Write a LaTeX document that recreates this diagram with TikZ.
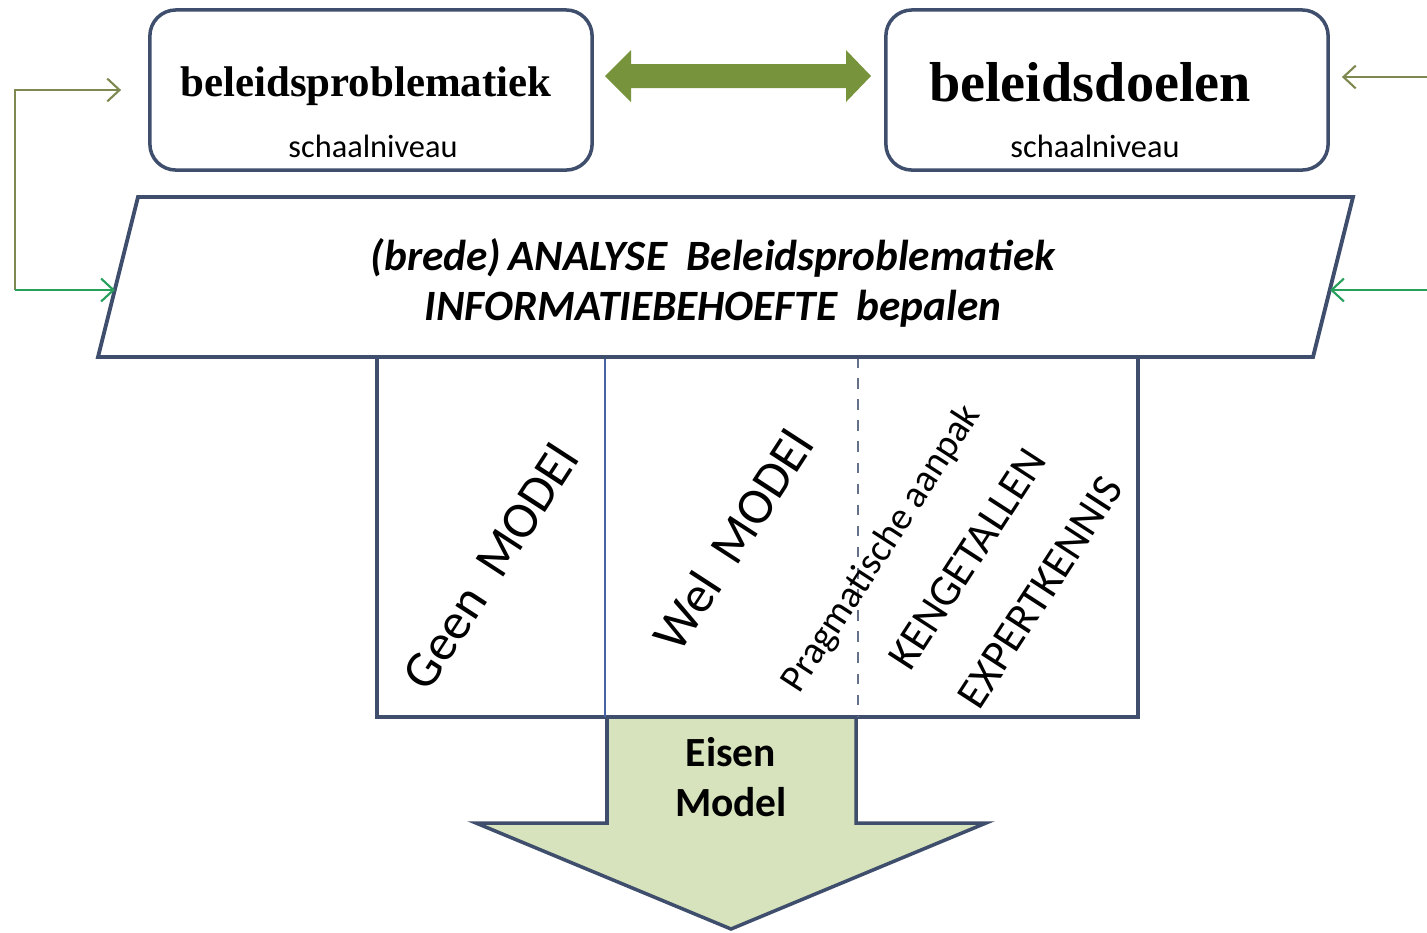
\documentclass[tikz,border=0pt]{standalone}
\usepackage{fontspec}
\setmainfont{Liberation Serif}
\setsansfont{Carlito}
\usetikzlibrary{arrows.meta, positioning}

\definecolor{edgeblue}{RGB}{62,78,108}
\definecolor{oliveg}{RGB}{119,147,60}
\definecolor{greyolive}{RGB}{125,137,80}
\definecolor{linkgreen}{RGB}{38,160,90}
\definecolor{arrowfill}{RGB}{215,227,188}
\definecolor{splitblue}{RGB}{70,100,165}

\begin{document}
\begin{tikzpicture}[x=0.01cm, y=-0.01cm,
    topbox/.style={draw=edgeblue, line width=1pt, rounded corners=0.26cm, minimum width=4.42cm, minimum height=1.6cm},
    title/.style={font=\bfseries},
    scalelab/.style={font=\sffamily\fontsize{9.2}{11}\selectfont},
    colhead/.style={rotate=57, font=\sffamily\fontsize{14.6}{17}\selectfont},
    sidehead/.style={rotate=57, font=\sffamily\fontsize{12.5}{15}\selectfont},
    feedback/.style={line width=0.6pt, -{Straight Barb[length=3.5pt,width=6.5pt]}},
]
\useasboundingbox (0,0) rectangle (1427,932);

% top boxes
\node[topbox] (probl) at (371,90) {};
\node[title, font=\bfseries\fontsize{12.2}{14}\selectfont] (probltitle) at (366,86) {beleidsproblematiek};
\node[scalelab] (problscale) at (373,146) {schaalniveau};
\node[topbox] (doelen) at (1107,90) {};
\node[title, font=\bfseries\fontsize{16}{18}\selectfont] (doelentitle) at (1090,82) {beleidsdoelen};
\node[scalelab] (doelenscale) at (1095,146) {schaalniveau};

% double arrow between the boxes
\fill[oliveg] (605,76) -- (631,50) -- (631,64) -- (846,64) -- (846,50) -- (871,76)
  -- (846,102) -- (846,88) -- (631,88) -- (631,102) -- cycle;

% down arrow
\fill[arrowfill] (607,717) -- (607,823) -- (476,823) -- (731,929) -- (986,823) -- (856,823) -- (856,717) -- cycle;
\draw[edgeblue, line width=1pt, line join=miter] (607,717) -- (607,823) -- (476,823) -- (731,929) -- (986,823) -- (856,823) -- (856,717);
\node[font=\sffamily\bfseries\fontsize{11.8}{14.2}\selectfont, align=center] (eisen) at (731,777) {Eisen\\Model};

% columns
\draw[edgeblue, line width=1.1pt] (377,357) rectangle (1138,717);
\draw[splitblue, line width=0.6pt] (605,357) -- (605,717);
\draw[edgeblue!80, dashed, line width=0.4pt] (858,357) -- (858,717);
\node[colhead] (geen) at (490,566) {Geen~ MODEl};
\node[colhead] (wel) at (733,540) {Wel~ MODEl};
\node[rotate=57, font=\sffamily\fontsize{11}{13}\selectfont] (pragma) at (882,549) {Pragmatische aanpak};
\node[sidehead] (kengetal) at (967,559) {KENGETALLEN};
\node[sidehead] (expert) at (1040,592) {EXPERTKENNIS};

% analysis band
\draw[edgeblue, line width=1.1pt, fill=white] (138,197) -- (1353,197) -- (1313,357) -- (98,357) -- cycle;
\node[font=\sffamily\bfseries\itshape\fontsize{12.3}{14.2}\selectfont, align=center] (analyse) at (713,283)
  {(brede)\,ANALYSE\ \ Beleidsproblematiek\\INFORMATIEBEHOEFTE\ \ bepalen};

% feedback lines
\coordinate (lbase) at (15,290);
\coordinate (lband) at (115,290);
\coordinate (rbase) at (1427,290);
\coordinate (rband) at (1330,290);
\coordinate (rtop) at (1427,77);
\draw[feedback, greyolive, shorten >=0.27cm] (lbase) |- (probl.west);
\draw[feedback, linkgreen] (lbase) -- (lband);
\draw[feedback, greyolive, shorten >=0.12cm] (rtop) -- (rtop -| doelen.east);
\draw[feedback, linkgreen] (rbase) -- (rband);
\end{tikzpicture}
\end{document}
